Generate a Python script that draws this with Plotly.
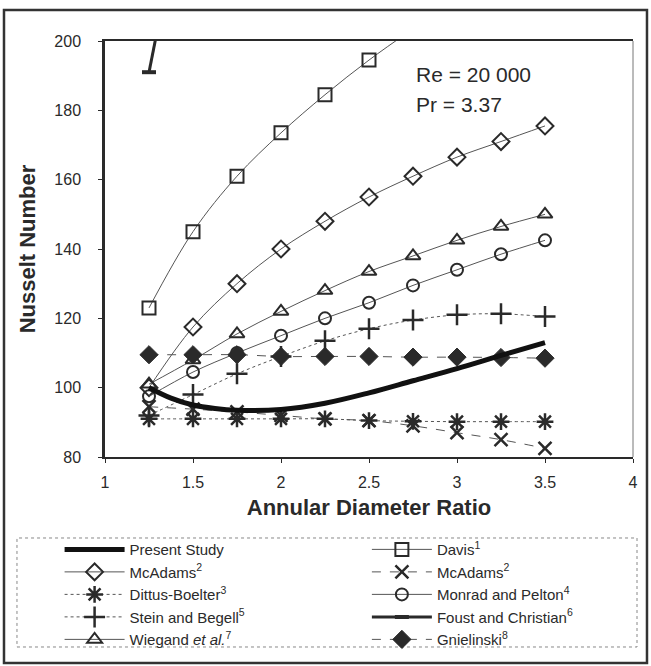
import plotly.graph_objects as go

x_ratio = [1.25, 1.5, 1.75, 2.0, 2.25, 2.5, 2.75, 3.0, 3.25, 3.5]

present_x = [1.25, 1.375, 1.5, 1.625, 1.75, 2.0, 2.25, 2.5, 2.75, 3.0, 3.25, 3.5]
present_y = [100, 97, 95, 94, 93.5, 93.7, 95.5, 98.5, 102, 105.5, 109.3, 113]

davis_x = [1.25, 1.5, 1.75, 2.0, 2.25, 2.5, 2.75]
davis_y = [123, 145, 161, 173.5, 184.5, 194.5, 203.5]

mcadams_diamond = [100, 117.5, 130, 140, 148, 155, 161, 166.5, 171, 175.5]
mcadams_x = [94.5, 93.8, 93, 92, 91, 90.5, 89, 87, 85, 82.5]
dittus = [91, 91, 91, 91, 91, 90.5, 90.3, 90.2, 90.2, 90.2]
monrad = [97.5, 104.5, 110, 115, 120, 124.5, 129.5, 134, 138.5, 142.5]
stein = [92, 98, 104, 109, 113.5, 117, 119.5, 121, 121.3, 120.5]
foust_x = [1.25, 1.5]
foust_y = [191, 255]
wiegand = [101, 108, 115.5, 122, 128, 133.5, 138, 142.5, 146.5, 150]
gnielinski = [109.5, 109.5, 109.5, 109, 109, 109, 108.8, 108.8, 108.7, 108.5]

names = {
    "present": "Present Study",
    "davis": "Davis<sup>1</sup>",
    "mcd": "McAdams<sup>2</sup>",
    "mcx": "McAdams<sup>2</sup>",
    "dittus": "Dittus-Boelter<sup>3</sup>",
    "monrad": "Monrad and Pelton<sup>4</sup>",
    "stein": "Stein and Begell<sup>5</sup>",
    "foust": "Foust and Christian<sup>6</sup>",
    "wiegand": "Wiegand <i>et al.</i><sup>7</sup>",
    "gniel": "Gnielinski<sup>8</sup>",
}

INK = "#2a2a2a"
LINE = "#555555"
FONT = "Liberation Sans, Arial, sans-serif"

fig = go.Figure()

def add(x, y, key, rank, legend, symbol, size, dash="solid", lw=1, mlw=2):
    fig.add_trace(go.Scatter(
        x=x, y=y, name=names[key], legendrank=rank, legend=legend,
        mode="lines+markers",
        line=dict(color=LINE, width=lw, shape="spline", dash=dash),
        marker=dict(symbol=symbol, size=size, color=INK,
                    line=dict(color=INK, width=mlw)),
    ))

add(davis_x, davis_y, "davis", 1, "legend2", "square-open", 13)
add(x_ratio, mcadams_diamond, "mcd", 2, "legend", "diamond-open", 13)
add(x_ratio, mcadams_x, "mcx", 2, "legend2", "x-thin-open", 13, dash="dash", mlw=2.5)
add(x_ratio, dittus, "dittus", 3, "legend", "asterisk-open", 14, dash="dot", mlw=2.5)
add(x_ratio, monrad, "monrad", 3, "legend2", "circle-open", 12)
add(x_ratio, stein, "stein", 4, "legend", "cross-thin-open", 15, dash="dot", mlw=2.5)
add(x_ratio, wiegand, "wiegand", 5, "legend", "triangle-up-open", 13)
add(x_ratio, gnielinski, "gniel", 5, "legend2", "diamond", 14, dash="dash", mlw=1)

fig.add_trace(go.Scatter(
    x=foust_x, y=foust_y, name=names["foust"], legendrank=4, legend="legend2",
    mode="lines+markers",
    line=dict(color=INK, width=3),
    marker=dict(symbol="line-ew", size=10, line=dict(color=INK, width=4)),
))

fig.add_trace(go.Scatter(
    x=present_x, y=present_y, name=names["present"], legendrank=1, legend="legend",
    mode="lines", line=dict(color="#111111", width=5, shape="spline"),
))

# text
fig.add_annotation(x=2.756, y=190.3, xref="x", yref="y", text="Re = 20 000",
                   showarrow=False, xanchor="left", yanchor="middle",
                   font=dict(family=FONT, size=21, color=INK))
fig.add_annotation(x=2.756, y=181.8, xref="x", yref="y", text="Pr = 3.37",
                   showarrow=False, xanchor="left", yanchor="middle",
                   font=dict(family=FONT, size=21, color=INK))

# plot frame right (thin), outer border, legend box
fig.add_shape(type="line", xref="paper", yref="paper", x0=1, x1=1, y0=0, y1=1,
              line=dict(color="#777777", width=1))
fig.add_shape(type="rect", xref="paper", yref="paper",
              x0=-0.1913, x1=1.0265, y0=-0.4952, y1=1.0745,
              line=dict(color="#333333", width=2.5))
fig.add_shape(type="rect", xref="paper", yref="paper",
              x0=-0.1667, x1=1.0076, y0=-0.4567, y1=-0.1947,
              line=dict(color="#888888", width=1, dash="dot"))

fig.update_xaxes(
    range=[1, 4], dtick=0.5, tick0=1, automargin=False,
    showline=True, linecolor=INK, linewidth=2, mirror=True,
    ticks="outside", ticklen=4, tickcolor=INK, showgrid=False, zeroline=False,
    tickfont=dict(family=FONT, size=16, color=INK), ticklabelstandoff=6,
    title=dict(text="<b>Annular Diameter Ratio</b>", standoff=9,
               font=dict(family=FONT, size=22, color=INK)),
)
fig.update_yaxes(
    range=[80, 200], dtick=20, automargin=False,
    showline=True, linecolor=INK, linewidth=2.5,
    ticks="outside", ticklen=4, tickcolor=INK, showgrid=False, zeroline=False,
    tickfont=dict(family=FONT, size=16, color=INK), ticklabelstandoff=14,
    title=dict(text="<b>Nusselt Number</b>", standoff=13,
               font=dict(family=FONT, size=22, color=INK)),
)

legend_common = dict(orientation="v", yanchor="top", xanchor="left",
                     itemwidth=60, bgcolor="rgba(0,0,0,0)", traceorder="normal",
                     font=dict(family=FONT, size=15, color=INK))

fig.update_layout(
    width=651, height=666,
    margin=dict(l=105, r=18, t=41, b=209, autoexpand=False),
    paper_bgcolor="white", plot_bgcolor="white",
    showlegend=True,
    legend=dict(x=-0.086, y=-0.183, **legend_common),
    legend2=dict(x=0.496, y=-0.183, **legend_common),
)

fig.write_html("out.html", config={"displayModeBar": False},
               post_script="document.body.style.margin='0';")
